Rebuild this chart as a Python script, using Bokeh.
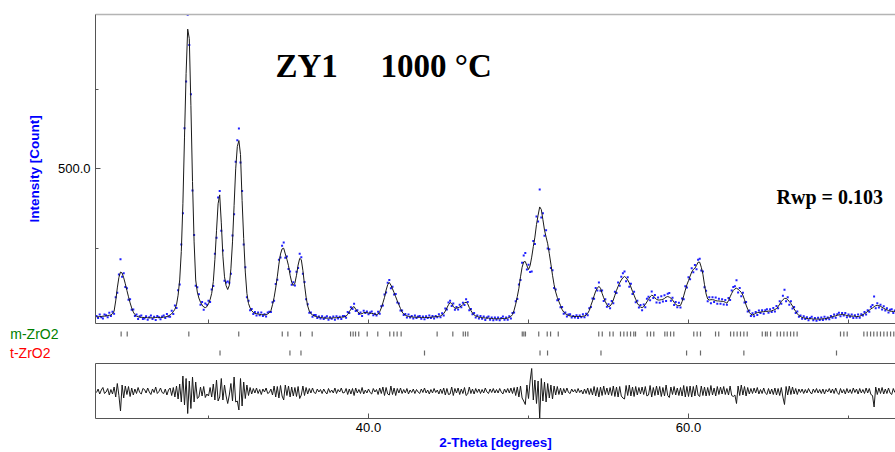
import numpy as np
from bokeh.plotting import figure
from bokeh.layouts import column
from bokeh.models import Range1d, FixedTicker, PrintfTickFormatter, LinearAxis
from bokeh.embed import file_html
from bokeh.resources import INLINE
from bokeh.core.properties import value

# ---------------- data ----------------
theta_start = 23.0
theta_step = 0.1

# calculated profile, counts, one row per degree (23.0 ... 72.9)
calc_rows = [
    [34, 34, 35, 35, 36, 36, 37, 38, 39, 40],
    [44, 52, 84, 125, 158, 175, 172, 157, 138, 117],
    [97, 78, 62, 49, 41, 36, 34, 33, 32, 32],
    [32, 32, 31, 31, 31, 31, 31, 32, 32, 32],
    [32, 32, 33, 34, 35, 37, 40, 44, 50, 58],
    [72, 102, 150, 240, 390, 600, 800, 940, 910, 700],
    [460, 270, 150, 112, 93, 80, 71, 65, 63, 66],
    [75, 88, 108, 145, 215, 305, 390, 418, 330, 225],
    [160, 132, 120, 133, 185, 270, 385, 500, 570, 589],
    [545, 400, 280, 175, 108, 76, 62, 53, 48, 45],
    [44, 43, 42, 41, 41, 40, 41, 43, 47, 53],
    [72, 95, 125, 160, 200, 232, 248, 250, 232, 215],
    [195, 165, 143, 133, 140, 165, 197, 218, 214, 180],
    [135, 96, 68, 52, 44, 40, 37, 35, 34, 33],
    [32, 31, 31, 30, 30, 30, 30, 30, 31, 31],
    [31, 32, 32, 33, 33, 34, 36, 42, 50, 58],
    [64, 66, 58, 51, 46, 43, 44, 47, 48, 47],
    [46, 45, 45, 44, 42, 41, 43, 50, 62, 78],
    [95, 118, 135, 142, 134, 122, 110, 97, 84, 72],
    [60, 49, 43, 39, 37, 35, 34, 34, 33, 33],
    [33, 33, 32, 32, 32, 32, 32, 32, 32, 33],
    [33, 34, 34, 35, 36, 37, 40, 44, 52, 62],
    [72, 79, 76, 67, 61, 61, 63, 65, 68, 73],
    [78, 80, 75, 63, 54, 46, 40, 37, 35, 33],
    [32, 31, 31, 30, 30, 30, 29, 29, 28, 28],
    [28, 28, 28, 28, 29, 29, 29, 30, 32, 35],
    [41, 55, 74, 98, 124, 160, 190, 207, 208, 195],
    [183, 195, 222, 255, 285, 325, 354, 380, 372, 340],
    [307, 285, 264, 233, 200, 165, 135, 112, 95, 82],
    [70, 57, 49, 44, 41, 38, 37, 36, 35, 35],
    [35, 35, 35, 35, 36, 37, 39, 45, 54, 70],
    [84, 100, 115, 124, 130, 124, 108, 94, 82, 72],
    [66, 68, 75, 87, 102, 117, 130, 141, 150, 157],
    [161, 157, 150, 141, 128, 114, 102, 89, 77, 70],
    [65, 63, 66, 73, 81, 89, 97, 102, 100, 94],
    [89, 87, 87, 88, 89, 92, 96, 98, 96, 93],
    [87, 80, 73, 70, 69, 70, 82, 100, 118, 135],
    [148, 162, 175, 183, 187, 196, 206, 206, 190, 168],
    [135, 106, 90, 87, 88, 88, 87, 85, 84, 84],
    [83, 83, 82, 80, 77, 85, 97, 108, 117, 122],
    [124, 121, 116, 111, 102, 88, 71, 58, 48, 42],
    [40, 42, 45, 47, 48, 49, 50, 50, 51, 51],
    [52, 52, 53, 55, 57, 60, 66, 74, 82, 88],
    [92, 92, 88, 82, 76, 68, 59, 51, 44, 38],
    [35, 32, 31, 30, 29, 28, 28, 28, 27, 27],
    [27, 27, 27, 27, 28, 28, 29, 30, 31, 33],
    [35, 36, 37, 39, 40, 41, 42, 41, 40, 38],
    [37, 37, 36, 36, 36, 35, 35, 36, 38, 41],
    [44, 47, 51, 55, 59, 62, 66, 69, 70, 69],
    [67, 64, 61, 58, 56, 54, 52, 51, 51, 51],
]

# observed minus calculated, counts, same grid
resid_rows = [
    [3, -4, 6, -2, -7, 5, 2, -5, 8, -3],
    [6, -8, 12, -15, 9, 40, -12, 14, -10, 7],
    [-9, 11, -6, 8, -4, 5, -7, 3, 6, -5],
    [-3, 4, -6, 2, 7, -4, 3, -8, 5, 1],
    [-6, 3, 5, -4, 8, -2, -6, 9, -7, 12],
    [-10, 16, -14, 22, -30, 28, -25, 45, -20, 35],
    [-28, 22, -18, 15, 12, -8, 10, -9, 13, 6],
    [10, -7, 12, -14, 18, -22, 20, 12, -25, 18],
    [-12, 10, 25, 8, -15, 20, -28, 22, 20, 38],
    [-25, 30, -18, 15, -12, 9, -7, 6, -5, 4],
    [-6, 5, -3, 7, -4, 2, -6, 5, 3, -4],
    [8, -10, 12, -9, 14, -11, 10, 18, -12, 9],
    [-10, 12, -8, 10, -7, 11, -9, 15, 8, -10],
    [9, -7, 6, -5, 4, -6, 3, 5, -4, 2],
    [-3, 5, -4, 2, 6, -5, 3, -2, 4, -6],
    [5, -3, 2, -6, 4, 3, -5, 7, -4, 6],
    [-5, 9, -6, 4, -3, 5, -7, 6, -2, 4],
    [-4, 3, 6, -5, 2, -3, 7, -6, 5, -8],
    [9, -7, 6, 8, -10, 7, -6, 9, -5, 4],
    [-6, 5, -3, 4, -5, 6, -2, 3, -4, 5],
    [-3, 2, 5, -4, 3, -6, 4, -2, 6, -3],
    [4, -5, 3, -2, 6, -4, 5, -6, 8, -5],
    [7, 6, -8, 9, -5, 4, -6, 7, -4, 5],
    [-7, 9, 6, -8, 5, -4, 6, -5, 3, -4],
    [5, -3, 4, -6, 2, 5, -4, 3, -5, 4],
    [-3, 4, -5, 2, 6, -4, 3, -5, 4, -6],
    [5, -7, 9, -8, 12, -10, 14, 20, 27, -12],
    [15, -20, -45, 18, -22, 25, -20, 55, -25, 20],
    [-18, 22, -15, 14, -12, 16, -10, 8, -9, 7],
    [-6, 8, -5, 4, -6, 3, 5, -4, 2, -3],
    [4, -5, 3, -2, 6, -4, 5, -6, 7, -5],
    [8, -9, 10, -7, 12, -8, 9, -10, 7, -6],
    [8, -7, 9, -10, 11, -8, 12, -9, 10, 14],
    [16, -11, 9, -12, 10, -8, 11, -9, 8, -7],
    [6, -8, 7, -9, 10, 8, -11, 12, -7, 9],
    [-10, 8, -9, 11, -7, 10, -12, 9, 13, -8],
    [7, -9, 8, -6, 9, -7, 10, -11, 12, -9],
    [11, -10, 12, -9, 10, -12, 8, 11, -10, 9],
    [-8, 10, -7, 9, -11, 8, -6, 10, -9, 7],
    [-8, 6, -9, 7, -5, 8, -10, 9, 11, 8],
    [25, -10, 9, -12, 8, -9, 10, -7, 6, -5],
    [5, -6, 4, -7, 6, -3, 5, -6, 4, 7],
    [-5, 6, -4, 7, -6, 8, -5, 9, -7, 12],
    [27, -9, 8, -10, 7, -8, 6, -5, 7, -4],
    [3, -4, 5, -3, 4, -5, 2, 6, -4, 3],
    [-5, 4, -3, 5, -4, 6, -3, 2, -5, 4],
    [-4, 5, -6, 3, 7, -5, 4, -3, 6, -5],
    [4, -3, 5, -6, 3, -4, 6, -5, 4, -3],
    [5, -6, 4, -5, 7, 9, 32, -8, 7, -6],
    [5, -7, 6, -4, 5, -6, 4, 7, -5, 3],
]

# reflection positions (2-theta, degrees)
m_zro2_ticks = [24.54, 24.92, 28.77, 31.89, 34.61, 34.96, 35.75, 36.48, 38.88, 39.04,
                39.19, 39.39, 39.92, 40.58, 41.33, 41.58, 41.79, 42.04, 44.29, 45.27,
                45.92, 46.06, 46.21, 49.61, 49.71, 49.81, 50.64, 51.17, 51.38, 51.86,
                54.39, 54.61, 55.08, 55.29, 55.75, 55.96, 56.17, 56.38, 56.58, 56.69,
                57.42, 57.63, 57.83, 58.52, 58.67, 58.88, 59.08, 60.33, 60.54, 60.75,
                61.69, 61.89, 62.63, 62.83, 63.04, 63.25, 63.46, 63.67, 64.61, 64.81,
                64.92, 65.13, 65.54, 65.75, 65.96, 66.17, 66.38, 66.58, 66.79, 69.50,
                69.71, 69.92, 70.96, 71.17, 71.38, 71.58, 71.79, 72.00, 72.21, 72.42,
                72.63, 72.83]
t_zro2_ticks = [30.72, 35.09, 35.78, 43.50, 50.72, 51.19, 54.53, 59.88, 60.75, 63.46, 69.25]

phase_names = ["m-ZrO2", "t-ZrO2"]
phase_colors = ["#008000", "#ff0000"]

calc = np.array(sum(calc_rows, []), dtype=float)
resid = np.array(sum(resid_rows, []), dtype=float)
two_theta = theta_start + theta_step * np.arange(len(calc))
obs = calc + resid
diff_shown = calc - obs

# ---------------- layout ----------------
W = 895
XR = (22.9375, 72.9375)
SANS = "Liberation Sans"
SERIF = "Liberation Serif"
AX = "#555555"


def bare(p):
    p.grid.visible = False
    p.outline_line_color = None
    p.background_fill_color = "white"
    p.border_fill_color = "white"


def line_axis(color, width=1, minor=None, tick_len=0):
    a = LinearAxis(ticker=FixedTicker(ticks=[], minor_ticks=minor or []))
    a.major_label_text_font_size = "0px"
    a.major_label_standoff = 0
    a.major_tick_in = 0
    a.major_tick_out = 0
    a.minor_tick_in = tick_len
    a.minor_tick_out = 0
    a.axis_line_color = color
    a.axis_line_width = width
    a.minor_tick_line_color = color
    return a


# main panel
main = figure(width=W, height=325, x_range=Range1d(*XR), y_range=Range1d(13, 986),
              output_backend="svg", toolbar_location=None,
              x_axis_location=None, y_axis_location=None,
              min_border_left=95, min_border_right=0, min_border_top=14, min_border_bottom=2)
bare(main)

yax = LinearAxis(ticker=FixedTicker(ticks=[500], minor_ticks=[250, 750]),
                 formatter=PrintfTickFormatter(format="%.1f"))
yax.axis_label = "Intensity [Count]"
yax.axis_label_text_font = SANS
yax.axis_label_text_font_size = "13.5px"
yax.axis_label_text_font_style = "bold"
yax.axis_label_text_color = "#0000ff"
yax.axis_label_standoff = 13
yax.major_label_text_font = SANS
yax.major_label_text_font_size = "13px"
yax.major_label_text_color = "black"
yax.major_label_standoff = 5
yax.major_tick_in = 5
yax.major_tick_out = 0
yax.minor_tick_in = 3
yax.minor_tick_out = 0
yax.axis_line_color = AX
yax.major_tick_line_color = AX
yax.minor_tick_line_color = AX
main.add_layout(yax, "left")

main.add_layout(line_axis(AX, 1, minor=[30, 40, 50, 60, 70], tick_len=4), "below")
main.add_layout(line_axis("#b4b4b4", 1.5), "above")

main.scatter(two_theta, obs, marker="square", size=2, fill_color="#1f1fff",
             line_color=None)
main.line(two_theta, calc, line_color="#1a1a1a", line_width=1)

main.text(x=[34.1875], y=[824], text=["ZY1"], text_font=value(SERIF),
          text_font_style="bold", text_font_size="33px", text_color="black",
          text_baseline="alphabetic", text_align="left")
main.text(x=[40.75], y=[824], text=["1000 °C"], text_font=value(SERIF),
          text_font_style="bold", text_font_size="33px", text_color="black",
          text_baseline="alphabetic", text_align="left")
main.text(x=[65.5], y=[410], text=["Rwp = 0.103"], text_font=value(SERIF),
          text_font_style="bold", text_font_size="20px", text_color="black",
          text_baseline="alphabetic", text_align="left")


# reflection tick rows: one thin figure per phase, phase name as a horizontal axis label
def phase_row(positions, name, color, height, standoff):
    f = figure(width=W, height=height, x_range=Range1d(*XR), y_range=Range1d(0, height),
               output_backend="svg", toolbar_location=None,
               x_axis_location=None, y_axis_location=None,
               min_border_left=95, min_border_right=0, min_border_top=0, min_border_bottom=0)
    bare(f)
    mid = height / 2.0
    f.segment(x0=positions, x1=positions, y0=[mid - 2.6] * len(positions),
              y1=[mid + 2.6] * len(positions), line_color="#6a6a6a", line_width=1.2)
    a = LinearAxis(ticker=FixedTicker(ticks=[]))
    a.axis_line_color = None
    a.major_tick_in = 0
    a.major_tick_out = 0
    a.minor_tick_in = 0
    a.minor_tick_out = 0
    a.major_label_standoff = 0
    a.major_label_text_font_size = "0px"
    a.axis_label = name
    a.axis_label_orientation = "horizontal"
    a.axis_label_text_color = color
    a.axis_label_text_font = SANS
    a.axis_label_text_font_size = "14px"
    a.axis_label_text_font_style = "normal"
    a.axis_label_standoff = standoff
    f.add_layout(a, "left")
    return f


row_m = phase_row(m_zro2_ticks, phase_names[0], phase_colors[0], 17, 37)
row_t = phase_row(t_zro2_ticks, phase_names[1], phase_colors[1], 21, 45)

# difference panel
diff = figure(width=W, height=89, x_range=Range1d(*XR), y_range=Range1d(-55, 55),
              output_backend="svg", toolbar_location=None,
              x_axis_location=None, y_axis_location=None,
              min_border_left=95, min_border_right=0, min_border_top=0, min_border_bottom=0)
bare(diff)
xax = LinearAxis(ticker=FixedTicker(ticks=[40, 60], minor_ticks=[30, 50, 70]),
                 formatter=PrintfTickFormatter(format="%.1f"))
xax.axis_label = "2-Theta [degrees]"
xax.axis_label_text_font = SANS
xax.axis_label_text_font_size = "13.5px"
xax.axis_label_text_font_style = "bold"
xax.axis_label_text_color = "#0000ff"
xax.axis_label_standoff = 0
xax.major_label_text_font = SANS
xax.major_label_text_font_size = "13px"
xax.major_label_text_color = "black"
xax.major_label_standoff = 4
xax.major_tick_in = 5
xax.major_tick_out = 0
xax.minor_tick_in = 3
xax.minor_tick_out = 0
xax.axis_line_color = AX
xax.major_tick_line_color = AX
xax.minor_tick_line_color = AX
diff.add_layout(xax, "below")
diff.add_layout(line_axis(AX), "left")
diff.add_layout(line_axis(AX), "above")
diff.line(two_theta, diff_shown, line_color="#1a1a1a", line_width=1)

layout = column(main, row_m, row_t, diff, spacing=0)
open("out.html", "w").write(file_html(layout, INLINE))
